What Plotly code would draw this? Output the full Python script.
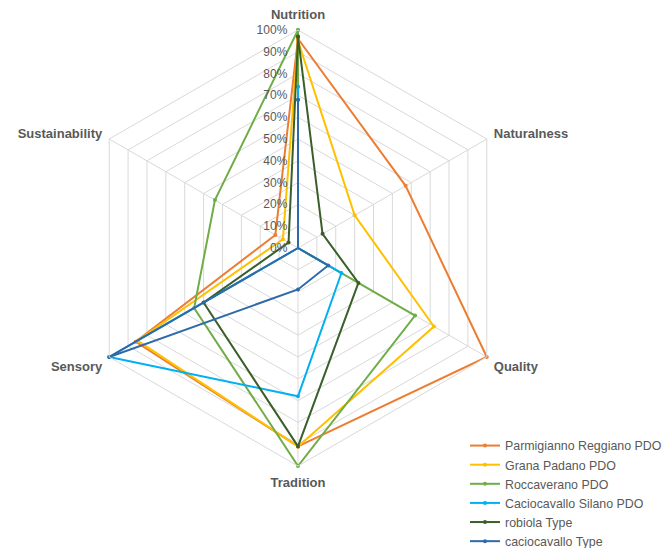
import plotly.graph_objects as go

# Radar axes (clockwise from top)
categories = ["Nutrition", "Naturalness", "Quality", "Tradition", "Sensory", "Sustainability"]

# Scores per product, in percent
parmigiano = [96, 57, 100, 91, 86, 12]
grana = [95, 30, 72, 91, 85, 8]
roccaverano = [100, 0, 62, 100, 55, 44]
caciocavallo_silano = [74, 0, 23, 68, 100, 0]
robiola_type = [97, 13, 32, 91, 50, 5]
caciocavallo_type = [68, 0, 16, 19, 100, 0]

series_names = [
    "Parmigianno Reggiano PDO",
    "Grana Padano PDO",
    "Roccaverano PDO",
    "Caciocavallo Silano PDO",
    "robiola Type",
    "caciocavallo Type",
]
series_values = [parmigiano, grana, roccaverano, caciocavallo_silano, robiola_type, caciocavallo_type]
series_colors = ["#ED7D31", "#FFC000", "#70AD47", "#00B0F0", "#3A5F2A", "#2E6AA8"]

fig = go.Figure()
for name, vals, col in zip(series_names, series_values, series_colors):
    fig.add_trace(go.Scatterpolar(
        r=vals + vals[:1],
        theta=categories + categories[:1],
        mode="lines+markers",
        name=name,
        line=dict(color=col, width=2),
        marker=dict(color=col, size=4),
    ))

W, H = 662, 548
cx, cy, R = 298, 248, 218
fig.update_layout(
    width=W, height=H,
    margin=dict(l=0, r=0, t=0, b=0, autoexpand=False),
    paper_bgcolor="white",
    plot_bgcolor="white",
    font=dict(family="Liberation Sans, Arial, sans-serif", color="#595959", size=12),
    polar=dict(
        domain=dict(x=[(cx - R) / W, (cx + R) / W],
                    y=[(H - cy - R) / H, (H - cy + R) / H]),
        bgcolor="white",
        gridshape="linear",
        angularaxis=dict(
            direction="clockwise",
            rotation=90,
            gridcolor="#D9D9D9",
            linecolor="#D9D9D9",
            showline=True,
            ticks="outside",
            ticklen=5,
            tickcolor="rgba(0,0,0,0)",
            tickfont=dict(size=13, color="#595959", family="Liberation Sans, Arial, sans-serif", weight="bold"),
        ),
        radialaxis=dict(
            range=[0, 100],
            dtick=10,
            angle=90,
            tickangle=90,
            side="counterclockwise",
            ticksuffix="%",
            showline=False,
            ticks="outside",
            ticklen=6,
            tickcolor="rgba(0,0,0,0)",
            gridcolor="#D9D9D9",
            tickfont=dict(size=12, color="#595959"),
        ),
    ),
    legend=dict(
        x=465 / W, y=1 - 431 / H, xanchor="left", yanchor="top",
        font=dict(size=12.4, color="#595959"),
        bgcolor="rgba(0,0,0,0)",
        tracegroupgap=0,
    ),
)

fig.write_html("out.html")
